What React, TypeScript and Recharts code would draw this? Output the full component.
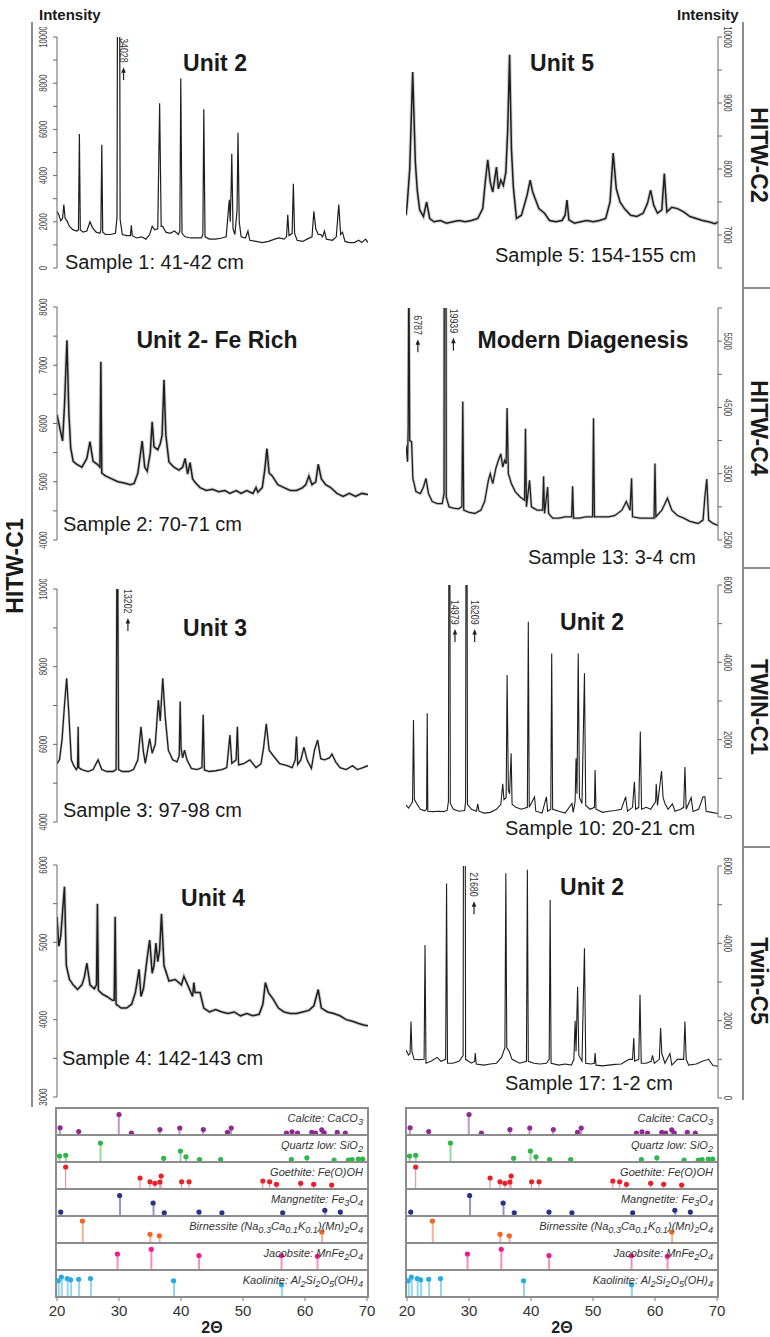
import React from "react";
import {
  Bar,
  ComposedChart,
  Line,
  LineChart,
  ReferenceDot,
  Scatter,
  XAxis,
  YAxis,
} from "recharts";

const FONT = "'Liberation Sans', Arial, Helvetica, sans-serif";
const GREY = "#8c8c8c";

// diffractograms: [2θ, intensity]
const sample1 = [[20.0,2450],[20.3,2300],[20.6,2050],[20.9,2150],[21.1,2750],[21.3,2150],[21.6,2050],[22.0,1800],[22.6,1650],[23.2,1600],[23.45,1650],[23.6,5800],[23.75,1650],[24.2,1550],[24.8,1600],[25.3,2000],[25.7,1750],[26.3,1550],[26.9,1500],[27.05,1650],[27.2,5330],[27.35,1550],[27.8,1450],[28.6,1450],[29.4,1500],[29.65,2200],[29.9,34028],[30.15,2100],[30.5,1450],[31.2,1400],[31.8,1400],[31.95,1850],[32.1,1400],[32.8,1300],[33.6,1350],[34.3,1250],[34.9,1450],[35.3,1800],[35.7,1650],[36.2,1700],[36.5,7130],[36.75,1800],[37.0,1800],[37.5,1550],[38.2,1500],[38.9,1600],[39.5,1450],[39.75,1600],[39.9,8200],[40.1,1500],[40.6,1350],[41.5,1300],[42.3,1300],[43.2,1300],[43.45,1450],[43.6,6870],[43.8,1350],[44.5,1250],[45.5,1250],[46.5,1300],[47.2,1350],[47.55,2500],[47.7,2950],[47.85,2000],[48.0,3500],[48.1,4950],[48.3,1700],[48.6,1450],[48.95,2500],[49.1,5850],[49.3,2000],[49.6,1350],[50.3,1300],[50.7,1600],[51.0,1200],[52.0,1150],[53.0,1100],[54.0,1150],[55.0,1250],[55.7,1300],[56.5,1250],[56.9,1350],[57.1,2300],[57.3,1400],[57.8,1500],[58.0,3650],[58.2,1500],[58.6,1200],[59.5,1150],[60.2,1250],[61.0,1350],[61.3,2450],[61.6,1700],[62.0,1450],[62.4,1450],[62.7,1350],[63.0,1600],[63.3,1250],[64.3,1200],[64.9,1350],[65.3,2750],[65.6,1450],[65.9,1550],[66.3,1150],[67.0,1100],[67.8,1100],[68.5,1200],[69.0,1100],[69.6,1250],[70.0,1100]];
const sample2 = [[20.0,6150],[20.5,5900],[20.9,5700],[21.2,6300],[21.6,7430],[21.9,6200],[22.2,5580],[22.6,5350],[23.2,5300],[24.0,5250],[24.8,5400],[25.3,5690],[25.8,5350],[26.5,5300],[26.9,5250],[27.05,7060],[27.2,5150],[27.8,5100],[28.8,5050],[29.8,5000],[30.8,4980],[31.8,4950],[32.4,4970],[33.0,5150],[33.7,5700],[34.1,5250],[34.5,5180],[35.0,5500],[35.3,6030],[35.6,5600],[36.2,5550],[36.6,5650],[36.9,5800],[37.2,6750],[37.5,5800],[38.0,5340],[38.8,5250],[39.6,5200],[40.2,5250],[40.6,5400],[41.0,5130],[41.4,5330],[41.8,5050],[42.2,4990],[43.0,4900],[44.0,4850],[45.0,4870],[46.0,4830],[47.0,4850],[47.8,4800],[48.8,4850],[49.6,4800],[50.5,4850],[51.5,4800],[52.0,4900],[52.3,4820],[53.0,4900],[53.4,5200],[53.75,5570],[54.1,5150],[54.6,5100],[55.5,4950],[56.5,4900],[57.5,4850],[58.5,4850],[59.5,4900],[60.0,4950],[60.5,5100],[61.0,4950],[61.6,5000],[62.0,5300],[62.5,5050],[63.2,4950],[64.0,4900],[65.0,4800],[66.0,4750],[67.0,4800],[68.0,4750],[69.0,4800],[70.0,4780]];
const sample3 = [[20.0,5500],[20.4,5600],[20.8,6100],[21.2,7000],[21.55,7700],[21.9,6800],[22.3,5600],[22.7,5450],[23.1,5350],[23.3,5400],[23.4,6450],[23.5,5400],[24.0,5350],[25.0,5300],[25.8,5350],[26.6,5600],[27.2,5350],[28.0,5300],[29.0,5300],[29.5,5350],[29.7,13202],[29.9,5350],[30.5,5300],[31.5,5300],[32.3,5350],[33.0,5600],[33.5,6450],[33.9,5800],[34.2,5510],[34.9,6150],[35.3,5770],[35.8,6000],[36.3,7140],[36.6,6600],[37.0,7700],[37.4,6700],[37.9,5850],[38.6,5600],[39.3,5550],[39.65,5700],[39.8,7100],[39.95,5890],[40.2,5650],[40.5,5850],[40.9,5600],[41.6,5380],[42.5,5350],[43.3,5400],[43.5,6760],[43.7,5340],[44.5,5300],[45.5,5320],[46.5,5350],[47.3,5400],[47.8,6240],[48.1,5510],[48.8,5600],[49.0,6450],[49.2,5470],[50.0,5500],[51.0,5600],[52.0,5400],[52.8,5500],[53.2,5900],[53.65,6530],[54.1,5850],[54.8,5700],[55.8,5500],[57.0,5450],[57.8,5400],[58.3,5600],[58.5,6200],[58.7,5480],[59.2,5600],[59.7,5930],[60.2,5600],[60.9,5380],[61.4,5850],[61.9,6110],[62.4,5630],[63.0,5600],[63.8,5650],[64.2,5750],[64.8,5550],[65.5,5400],[66.5,5350],[67.5,5450],[68.3,5350],[69.2,5400],[70.0,5450]];
const sample4 = [[20.0,5330],[20.3,4950],[20.6,5080],[20.9,5400],[21.2,5720],[21.5,4700],[22.0,4520],[22.6,4450],[23.3,4390],[24.0,4450],[24.4,4550],[24.8,4730],[25.3,4450],[26.0,4400],[26.35,4450],[26.5,5500],[26.65,4380],[27.3,4330],[28.0,4300],[28.9,4250],[29.2,4250],[29.35,5330],[29.5,4200],[30.3,4150],[31.2,4150],[32.0,4200],[32.6,4350],[33.2,4650],[33.5,4300],[33.9,4400],[34.5,4800],[34.9,5030],[35.3,4600],[35.6,4700],[35.9,4990],[36.2,4750],[36.5,4900],[36.8,5370],[37.2,4700],[38.0,4500],[39.0,4520],[40.0,4450],[40.4,4560],[41.0,4450],[41.8,4300],[42.0,4480],[42.2,4350],[43.0,4350],[43.6,4150],[44.5,4100],[45.5,4130],[46.5,4100],[47.5,4080],[48.5,4100],[49.5,4050],[50.5,4080],[51.5,4050],[52.5,4070],[53.1,4200],[53.5,4480],[54.0,4350],[54.8,4260],[55.6,4150],[56.5,4100],[57.5,4080],[58.5,4080],[59.5,4100],[60.5,4120],[61.3,4180],[62.0,4390],[62.5,4150],[63.5,4100],[64.5,4080],[65.5,4050],[66.5,4000],[67.5,3980],[68.5,3950],[69.3,3930],[70.0,3920]];
const sample5 = [[20.0,7300],[20.2,7480],[20.6,8000],[21.07,9470],[21.5,8100],[21.8,7680],[22.2,7380],[22.8,7280],[23.3,7500],[23.8,7250],[24.5,7200],[25.5,7220],[26.5,7180],[27.5,7200],[28.5,7220],[29.5,7200],[30.5,7220],[31.5,7250],[32.3,7400],[32.7,7800],[33.1,8140],[33.5,7800],[33.9,7650],[34.5,8030],[34.8,7700],[35.2,7830],[35.6,7750],[36.0,7950],[36.3,8600],[36.6,9730],[36.9,8300],[37.2,7730],[37.7,7250],[38.5,7300],[39.4,7600],[39.9,7830],[40.3,7650],[40.7,7550],[41.3,7400],[42.2,7330],[43.0,7220],[44.0,7200],[45.0,7220],[45.5,7300],[45.8,7530],[46.1,7230],[47.0,7180],[48.0,7200],[49.0,7220],[50.0,7200],[51.0,7220],[52.0,7250],[52.7,7500],[53.2,8240],[53.7,7700],[54.3,7500],[55.0,7400],[56.0,7300],[57.0,7280],[58.0,7330],[58.7,7480],[59.2,7680],[59.7,7450],[60.3,7330],[61.0,7380],[61.4,7930],[61.8,7350],[62.6,7420],[63.5,7400],[64.5,7350],[65.5,7280],[66.5,7250],[67.5,7220],[68.5,7200],[69.5,7170],[70.0,7200]];
const sample13 = [[20.0,3930],[20.25,3680],[20.35,4200],[20.45,6787],[20.6,4000],[20.9,3980],[21.1,3430],[21.6,3230],[22.3,3200],[22.8,3300],[23.2,3430],[23.6,3200],[24.2,3080],[25.0,3050],[25.8,3050],[26.1,3200],[26.25,19939],[26.45,3150],[26.9,3000],[27.6,2980],[28.4,2970],[28.95,3000],[29.1,4590],[29.25,2950],[30.0,2920],[31.0,2900],[32.0,2950],[32.6,3080],[33.2,3400],[33.5,3500],[33.9,3350],[34.4,3580],[34.8,3700],[35.2,3800],[35.5,3600],[35.8,3700],[36.05,3650],[36.2,4490],[36.4,3500],[36.9,3350],[37.5,3230],[38.3,3150],[39.0,3100],[39.15,4180],[39.3,3000],[39.8,3400],[40.1,3000],[41.0,2950],[41.9,2950],[42.05,3460],[42.2,2900],[42.7,3300],[42.85,2900],[43.5,2830],[44.5,2830],[45.5,2850],[46.55,2850],[46.7,3310],[46.85,2830],[47.8,2830],[48.8,2850],[49.9,2850],[50.05,4335],[50.2,2850],[51.5,2850],[52.5,2850],[53.5,2870],[54.6,2950],[55.3,3080],[55.9,2950],[56.15,3430],[56.3,2850],[57.5,2830],[58.5,2830],[59.75,2830],[59.9,3655],[60.05,2850],[61.0,2950],[61.9,3130],[62.6,2950],[63.5,2870],[64.5,2830],[65.5,2780],[66.8,2750],[67.6,2800],[67.9,3150],[68.2,3420],[68.5,2800],[69.2,2750],[70.0,2720]];
const sample10 = [[20.0,310],[20.4,230],[20.9,350],[21.05,400],[21.2,2510],[21.35,450],[21.7,350],[22.3,200],[23.0,160],[23.3,200],[23.4,2680],[23.5,150],[24.3,140],[25.2,150],[26.0,140],[26.6,170],[26.8,400],[26.95,14979],[27.1,350],[27.6,200],[28.5,150],[29.4,170],[29.55,400],[29.7,16209],[29.85,330],[30.5,200],[31.3,150],[31.5,340],[31.7,150],[32.5,100],[33.5,120],[34.5,200],[35.2,330],[35.5,860],[35.7,450],[36.05,500],[36.2,3670],[36.4,700],[36.6,600],[36.85,1650],[37.0,330],[37.6,250],[38.5,200],[39.45,250],[39.6,5050],[39.75,250],[40.6,520],[40.8,150],[41.8,100],[42.5,520],[42.7,150],[43.2,200],[43.35,4230],[43.5,200],[44.5,150],[45.5,100],[46.6,350],[46.8,120],[47.1,400],[47.25,1520],[47.4,600],[47.6,4230],[47.8,500],[48.2,350],[48.6,3715],[48.8,300],[49.5,200],[50.2,250],[50.3,1215],[50.45,200],[51.5,120],[52.5,150],[53.5,170],[54.5,200],[55.2,520],[55.5,150],[56.3,250],[56.6,910],[56.8,200],[57.3,250],[57.55,2210],[57.75,200],[58.5,250],[59.2,200],[60.0,400],[60.1,860],[60.3,300],[60.95,1190],[61.2,500],[61.5,350],[62.0,200],[62.7,340],[63.1,150],[64.0,200],[64.5,250],[64.7,1290],[64.9,200],[65.7,500],[66.0,140],[66.9,200],[67.6,520],[67.9,520],[68.1,150],[69.0,120],[70.0,90]];
const sample17 = [[20.0,1240],[20.4,1110],[20.65,1150],[20.8,1975],[20.95,1200],[21.3,1000],[22.0,990],[22.9,1000],[23.05,3955],[23.2,900],[24.0,950],[25.0,1050],[25.6,950],[26.35,1000],[26.5,5550],[26.65,900],[27.5,900],[28.5,950],[29.15,1100],[29.35,21680],[29.55,1000],[30.5,900],[31.0,950],[31.1,1160],[31.25,880],[32.5,850],[33.5,880],[34.5,900],[35.3,1050],[35.85,1300],[36.0,5810],[36.15,1300],[36.5,1220],[37.0,1000],[38.2,900],[39.3,950],[39.45,5900],[39.6,950],[40.5,900],[41.5,880],[42.5,900],[42.95,1000],[43.1,5120],[43.25,900],[44.5,850],[45.5,880],[46.5,850],[46.9,1000],[47.1,2000],[47.25,1200],[47.5,2880],[47.7,1100],[48.2,950],[48.6,3870],[48.8,900],[49.6,880],[50.2,900],[50.3,1160],[50.45,850],[51.5,830],[52.5,850],[53.5,870],[54.5,880],[55.2,950],[55.8,1000],[56.3,1000],[56.5,1550],[56.65,950],[57.3,1000],[57.5,2670],[57.7,900],[58.5,900],[59.3,950],[59.5,1100],[59.8,900],[60.6,1000],[60.8,1810],[61.0,1150],[61.5,900],[62.3,1150],[62.6,850],[63.5,1000],[64.5,1000],[64.7,1980],[64.9,1000],[65.3,850],[66.5,880],[67.5,950],[68.5,1000],[69.2,840],[70.0,820]];

// y ticks (every tick) and the ones carrying a number
const ticks1 = [0, 1000, 2000, 3000, 4000, 5000, 6000, 7000, 8000, 9000, 10000];
const labels1 = [0, 2000, 4000, 6000, 8000, 10000];
const ticks2 = [4000, 4500, 5000, 5500, 6000, 6500, 7000, 7500, 8000];
const labels2 = [4000, 5000, 6000, 7000, 8000];
const ticks3 = [4000, 5000, 6000, 7000, 8000, 9000, 10000];
const labels3 = [4000, 6000, 8000, 10000];
const ticks4 = [3000, 3500, 4000, 4500, 5000, 5500, 6000];
const labels4 = [3000, 4000, 5000, 6000];
const ticks5 = [6500, 7000, 7500, 8000, 8500, 9000, 9500, 10000];
const labels5 = [7000, 8000, 9000, 10000];
const ticks13 = [2500, 3000, 3500, 4000, 4500, 5000, 5500, 6000];
const labels13 = [2500, 3500, 4500, 5500];
const ticksTwin = [0, 1000, 2000, 3000, 4000, 5000, 6000];
const labelsTwin = [0, 2000, 4000, 6000];
const xTicks = [20, 30, 40, 50, 60, 70];

// reference patterns: [2θ, relative height in % of the row]
const calcite = [[20.5,25],[23.5,10],[30.0,78],[32.0,4],[36.6,18],[39.8,24],[43.6,18],[47.5,7],[48.1,24],[57.0,4],[57.9,9],[58.8,4],[61.1,7],[61.7,4],[62.7,17],[63.1,5],[65.2,7],[66.5,4]];
const quartz = [[20.4,20],[21.4,23],[27.0,72],[37.2,11],[39.9,40],[40.8,17],[43.0,6],[46.4,6],[57.8,6],[60.3,13],[64.7,4],[67.0,4],[67.6,6],[68.6,8],[69.3,8]];
const goethite = [[21.4,84],[33.4,40],[35.0,25],[35.8,19],[36.6,24],[36.8,48],[40.1,25],[41.3,25],[53.2,28],[54.3,25],[55.4,15],[59.3,19],[61.4,15],[64.3,12]];
const magnetite = [[20.6,12],[30.1,78],[35.5,48],[37.3,9],[42.9,12],[46.6,9],[56.4,9],[63.2,19],[65.7,12]];
const birnessite = [[24.1,84],[35.0,31],[36.5,25],[62.7,40]];
const jacobsite = [[29.75,60],[35.2,79],[42.9,54],[56.2,54],[62.0,51]];
const kaolinite = [[20.2,61],[20.7,76],[21.65,70],[22.2,65],[23.5,67],[25.4,70],[38.8,61],[56.2,45]];

const minerals = [
  { data: calcite, color: "#8e2a92", label: <>Calcite: CaCO<sub>3</sub></> },
  { data: quartz, color: "#2fb54a", label: <>Quartz low: SiO<sub>2</sub></> },
  { data: goethite, color: "#e8202a", label: <>Goethite: Fe(O)OH</> },
  { data: magnetite, color: "#2b2f86", label: <>Mangnetite: Fe<sub>3</sub>O<sub>4</sub></> },
  {
    data: birnessite,
    color: "#f26522",
    label: (
      <>
        Birnessite (Na<sub>0.3</sub>Ca<sub>0.1</sub>K<sub>0.1</sub>)(Mn)<sub>2</sub>O<sub>4</sub>
      </>
    ),
  },
  { data: jacobsite, color: "#ec1c8c", label: <>Jacobsite: MnFe<sub>2</sub>O<sub>4</sub></> },
  {
    data: kaolinite,
    color: "#29abe2",
    label: (
      <>
        Kaolinite: Al<sub>2</sub>Si<sub>2</sub>O<sub>5</sub>(OH)<sub>4</sub>
      </>
    ),
  },
];

const panels = [
  { data: sample1, col: "L", top: 37, bottom: 268, domain: [0, 10000], ticks: ticks1, labels: labels1, sw: 1.2, halo: 0,
    notes: [{ t: 30.7, v: 9950, text: "34028" }], title: "Unit 2", tx: 215, ty: 63, sample: "Sample 1: 41-42 cm", sx: 65, sy: 262 },
  { data: sample2, col: "L", top: 307, bottom: 540, domain: [4000, 8000], ticks: ticks2, labels: labels2, sw: 1.5, halo: 3.5,
    notes: [], title: "Unit 2- Fe Rich", tx: 217, ty: 340, sample: "Sample 2: 70-71 cm", sx: 63, sy: 524 },
  { data: sample3, col: "L", top: 589, bottom: 822, domain: [4000, 10000], ticks: ticks3, labels: labels3, sw: 1.3, halo: 2.5,
    notes: [{ t: 31.4, v: 10000, text: "13202" }], title: "Unit 3", tx: 215, ty: 628, sample: "Sample 3: 97-98 cm", sx: 63, sy: 810 },
  { data: sample4, col: "L", top: 865, bottom: 1097, domain: [3000, 6000], ticks: ticks4, labels: labels4, sw: 1.5, halo: 3.5,
    notes: [], title: "Unit 4", tx: 213, ty: 898, sample: "Sample 4: 142-143 cm", sx: 62, sy: 1058 },
  { data: sample5, col: "R", top: 37, bottom: 268, domain: [6500, 10000], ticks: ticks5, labels: labels5, sw: 1.5, halo: 3.5,
    notes: [], title: "Unit 5", tx: 562, ty: 63, sample: "Sample 5: 154-155 cm", sx: 495, sy: 255 },
  { data: sample13, col: "R", top: 308, bottom: 540, domain: [2500, 6000], ticks: ticks13, labels: labels13, sw: 1.3, halo: 3,
    notes: [{ t: 21.9, v: 5890, text: "6787" }, { t: 27.6, v: 5990, text: "19939" }],
    title: "Modern Diagenesis", tx: 583, ty: 340, sample: "Sample 13: 3-4 cm", sx: 528, sy: 557 },
  { data: sample10, col: "R", top: 585, bottom: 817, domain: [0, 6000], ticks: ticksTwin, labels: labelsTwin, sw: 1.1, halo: 0,
    notes: [{ t: 27.85, v: 5610, text: "14979" }, { t: 31.0, v: 5610, text: "16209" }],
    title: "Unit 2", tx: 592, ty: 622, sample: "Sample 10: 20-21 cm", sx: 505, sy: 828 },
  { data: sample17, col: "R", top: 866, bottom: 1098, domain: [0, 6000], ticks: ticksTwin, labels: labelsTwin, sw: 1.1, halo: 0,
    notes: [{ t: 30.9, v: 5840, text: "21680" }], title: "Unit 2", tx: 592, ty: 887, sample: "Sample 17: 1-2 cm", sx: 505, sy: 1083 },
];

function YTick(props: any) {
  const { x, y, payload, side, labels } = props;
  if (!labels.includes(payload.value)) return <g />;
  const cx = side === "L" ? x - 7 : x + 3;
  return (
    <text
      transform={`translate(${cx},${y}) rotate(${side === "L" ? -90 : 90}) scale(0.78,1)`}
      textAnchor="middle"
      dominantBaseline="central"
      fontSize={10}
      fill="#444"
      fontFamily={FONT}
    >
      {payload.value}
    </text>
  );
}

// off-scale peak value with its arrow
function Note({ cx, cy, text }: { cx: number; cy: number; text: string }) {
  const a = cy + text.length * 5 + 4;
  return (
    <g>
      <text
        transform={`translate(${cx},${cy}) rotate(90) scale(0.8,1)`}
        fontSize={11}
        fontFamily={FONT}
        fill="#333"
        dominantBaseline="central"
      >
        {text}
      </text>
      <line x1={cx} x2={cx} y1={a + 3} y2={a + 13} stroke="#222" strokeWidth={1.2} />
      <path d={`M${cx - 2.3},${a + 5.5} L${cx + 2.3},${a + 5.5} L${cx},${a} Z`} fill="#222" />
    </g>
  );
}

function Scan({ p }: { p: any }) {
  const rows = p.data.map(([t, v]: number[]) => ({ t, v }));
  const left = p.col === "L" ? 0 : 390;
  const h = p.bottom - p.top + 20;
  const margin = p.col === "L" ? { top: 10, bottom: 10, left: 17, right: 12 } : { top: 10, bottom: 10, left: 16, right: 12 };
  return (
    <div style={{ position: "absolute", left, top: p.top - 10, width: 380, height: h }}>
      <LineChart width={380} height={h} data={rows} margin={margin}>
        <XAxis type="number" dataKey="t" domain={[20, 70]} hide allowDataOverflow />
        <YAxis
          orientation={p.col === "L" ? "left" : "right"}
          width={40}
          domain={p.domain}
          ticks={p.ticks}
          interval={0}
          allowDataOverflow
          tickSize={4}
          axisLine={{ stroke: "#666" }}
          tickLine={{ stroke: "#666" }}
          tick={<YTick side={p.col} labels={p.labels} />}
        />
        {p.halo > 0 && (
          <Line
            type="linear"
            dataKey="v"
            dot={false}
            stroke="#555"
            strokeOpacity={0.28}
            strokeWidth={p.halo}
            isAnimationActive={false}
          />
        )}
        <Line type="linear" dataKey="v" dot={false} stroke="#1e1e1e" strokeWidth={p.sw} isAnimationActive={false} />
        {p.notes.map((n: any) => (
          <ReferenceDot
            key={n.text}
            x={n.t}
            y={n.v}
            ifOverflow="visible"
            shape={(s: any) => <Note cx={s.cx} cy={s.cy} text={n.text} />}
          />
        ))}
      </LineChart>
    </div>
  );
}

const dotShape = (props: any) => <circle cx={props.cx} cy={props.cy} r={2.6} fill={props.fill} />;

function Sticks({ left }: { left: number }) {
  return (
    <>
      <div
        style={{
          position: "absolute",
          left,
          top: 1107,
          width: 314,
          height: 191,
          border: `2px solid ${GREY}`,
          boxSizing: "border-box",
        }}
      >
        {minerals.map((m, i) => (
          <div key={i} style={{ position: "relative", height: 25, borderTop: i ? `2px solid ${GREY}` : "none" }}>
            <ComposedChart
              width={310}
              height={25}
              data={m.data.map(([t, h]) => ({ t, h }))}
              margin={{ top: 0, right: 0, bottom: 0, left: 0 }}
            >
              <XAxis type="number" dataKey="t" domain={[20, 70]} hide />
              <YAxis dataKey="h" domain={[0, 100]} hide />
              <Bar dataKey="h" barSize={2} fill={m.color} fillOpacity={0.5} isAnimationActive={false} />
              <Scatter dataKey="h" fill={m.color} shape={dotShape} isAnimationActive={false} />
            </ComposedChart>
            <div
              style={{
                position: "absolute",
                right: 4,
                top: 3,
                fontFamily: FONT,
                fontStyle: "italic",
                fontSize: 11,
                lineHeight: "12px",
                color: "#333",
                whiteSpace: "nowrap",
              }}
            >
              {m.label}
            </div>
          </div>
        ))}
      </div>
      <div style={{ position: "absolute", left: left + 2 - 20, top: 1288 }}>
        <ComposedChart width={350} height={40} data={kaolinite.map(([t, h]) => ({ t, h }))} margin={{ top: 0, right: 20, bottom: 0, left: 20 }}>
          <XAxis
            type="number"
            dataKey="t"
            domain={[20, 70]}
            ticks={xTicks}
            interval={0}
            height={30}
            tickSize={3}
            tickMargin={4}
            axisLine={false}
            tickLine={{ stroke: "#777" }}
            tick={{ fontSize: 15, fill: "#333", fontFamily: FONT }}
          />
          <YAxis hide domain={[0, 100]} />
        </ComposedChart>
      </div>
      <div
        style={{
          position: "absolute",
          left: left + 157,
          top: 1328,
          transform: "translate(-50%,-50%)",
          fontFamily: FONT,
          fontWeight: 700,
          fontSize: 16,
          color: "#222",
          lineHeight: 1,
        }}
      >
        2Θ
      </div>
    </>
  );
}

const abs = (x: number, y: number, style: React.CSSProperties, text: string, rot = 0, center = true) => (
  <div
    key={text + x + y}
    style={{
      position: "absolute",
      left: x,
      top: y,
      transform: center ? `translate(-50%,-50%) rotate(${rot}deg)` : "translateY(-50%)",
      fontFamily: FONT,
      lineHeight: 1,
      whiteSpace: "nowrap",
      color: "#1a1a1a",
      ...style,
    }}
  >
    {text}
  </div>
);

export default function App() {
  const bold = { fontWeight: 700 } as React.CSSProperties;
  return (
    <div style={{ position: "absolute", left: 0, top: 0, width: 770, height: 1337, background: "#fff", overflow: "hidden" }}>
      {/* brackets */}
      <div style={{ position: "absolute", left: 31, top: 22, width: 2, height: 1085, background: GREY }} />
      <div style={{ position: "absolute", left: 742, top: 22, width: 2, height: 1078, background: GREY }} />
      {[287, 567, 846].map((y) => (
        <div key={y} style={{ position: "absolute", left: 742, top: y, width: 28, height: 2, background: GREY }} />
      ))}
      {abs(39, 14, { ...bold, fontSize: 15 }, "Intensity", 0, false)}
      {abs(677, 14, { ...bold, fontSize: 15 }, "Intensity", 0, false)}
      {abs(15, 566, { ...bold, fontSize: 23 }, "HITW-C1", -90)}
      {abs(758, 155, { ...bold, fontSize: 23 }, "HITW-C2", 90)}
      {abs(758, 428, { ...bold, fontSize: 23 }, "HITW-C4", 90)}
      {abs(758, 707, { ...bold, fontSize: 23 }, "TWIN-C1", 90)}
      {abs(758, 981, { ...bold, fontSize: 23 }, "Twin-C5", 90)}

      {panels.map((p, i) => (
        <React.Fragment key={i}>
          <Scan p={p} />
          {abs(p.tx, p.ty, { ...bold, fontSize: 23 }, p.title)}
          {abs(p.sx, p.sy, { fontSize: 20 }, p.sample, 0, false)}
        </React.Fragment>
      ))}

      <Sticks left={55} />
      <Sticks left={405} />
    </div>
  );
}
